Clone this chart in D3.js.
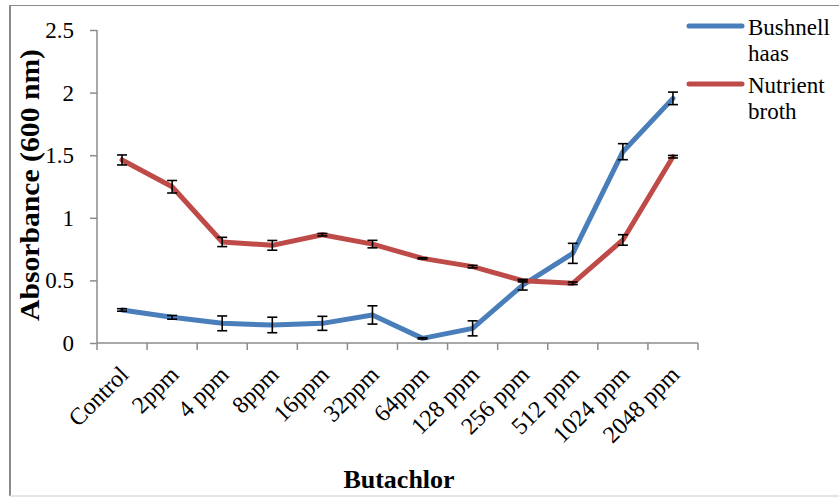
<!DOCTYPE html>
<html>
<head>
<meta charset="utf-8">
<script src="https://cdn.jsdelivr.net/npm/d3@7"></script>
<style>
  html, body { margin: 0; padding: 0; background: #fff; }
  svg { display: block; }
  svg text { font-family: "Liberation Serif", "Times New Roman", serif; fill: #000; }
</style>
</head>
<body>
<svg id="chart" width="839" height="497"></svg>
<script>
// Butachlor concentrations on the x axis
const categories = ["Control", "2ppm", "4 ppm", "8ppm", "16ppm", "32ppm", "64ppm",
  "128 ppm", "256 ppm", "512 ppm", "1024 ppm", "2048 ppm"];

// Absorbance at 600 nm, mean values
const bushnellHaas = [0.264, 0.205, 0.157, 0.144, 0.157, 0.224, 0.037, 0.117, 0.463, 0.716, 1.528, 1.954];
const nutrientBroth = [1.462, 1.248, 0.807, 0.780, 0.865, 0.790, 0.676, 0.610, 0.498, 0.477, 0.823, 1.488];

// Error bar half-widths
const bushnellErr = [0.01, 0.015, 0.059, 0.062, 0.056, 0.073, 0.005, 0.06, 0.04, 0.08, 0.064, 0.05];
const nutrientErr = [0.04, 0.05, 0.037, 0.039, 0.01, 0.03, 0.005, 0.01, 0.01, 0.01, 0.042, 0.01];

const yTicks = [0, 0.5, 1, 1.5, 2, 2.5];

const seriesList = [
  { name: ["Bushnell", "haas"], values: bushnellHaas, err: bushnellErr, color: "#4a7ebb" },
  { name: ["Nutrient", "broth"], values: nutrientBroth, err: nutrientErr, color: "#be4b48" }
];

const FONT = "Liberation Serif";
const svg = d3.select("#chart");

// outer frame
svg.append("line").attr("x1", 10).attr("x2", 10).attr("y1", 5).attr("y2", 496)
  .attr("stroke", "#8a8a8a").attr("stroke-width", 2);
svg.append("line").attr("x1", 10).attr("x2", 839).attr("y1", 5.5).attr("y2", 5.5)
  .attr("stroke", "#8a8a8a").attr("stroke-width", 1);
svg.append("line").attr("x1", 10).attr("x2", 839).attr("y1", 496).attr("y2", 496)
  .attr("stroke", "#dcdcdc").attr("stroke-width", 1.5);

const plot = { left: 97, right: 698, top: 30, bottom: 343 };

const x = d3.scaleBand().domain(categories).range([plot.left, plot.right]);
const y = d3.scaleLinear().domain([0, 2.5]).range([plot.bottom, plot.top]);

// y axis
const yAxis = svg.append("g").attr("transform", `translate(${plot.left},0)`)
  .call(d3.axisLeft(y).tickValues(yTicks).tickSize(7).tickPadding(16)
    .tickFormat(d => d3.format("")(d)));
yAxis.attr("font-family", FONT);
yAxis.select(".domain").attr("stroke", "#8c8c8c").attr("stroke-width", 1.5)
  .attr("d", `M0,${plot.top}V${plot.bottom}`);
yAxis.selectAll(".tick line").attr("stroke", "#8c8c8c").attr("stroke-width", 1.5);
yAxis.selectAll(".tick text").attr("font-size", 23).attr("fill", "#000")
  .attr("font-family", FONT).attr("dy", "0.33em");

// x axis with ticks at category boundaries
const xAxisG = svg.append("g").attr("transform", `translate(0,${plot.bottom})`);
xAxisG.append("line").attr("x1", plot.left).attr("x2", plot.right)
  .attr("stroke", "#8c8c8c").attr("stroke-width", 1.5);
const bounds = categories.map(c => x(c)).concat([x(categories[categories.length - 1]) + x.bandwidth()]);
xAxisG.selectAll("line.tk").data(bounds).enter().append("line").attr("class", "tk")
  .attr("x1", d => d).attr("x2", d => d).attr("y1", 0).attr("y2", 7)
  .attr("stroke", "#8c8c8c").attr("stroke-width", 1.5);
xAxisG.selectAll("text").data(categories).enter().append("text")
  .attr("transform", d => `translate(${x(d) + x.bandwidth() / 2 + 8},${33}) rotate(-45)`)
  .attr("text-anchor", "end")
  .attr("font-family", FONT).attr("font-size", 24).attr("fill", "#000")
  .text(d => d);

// axis titles
svg.append("text")
  .attr("transform", `translate(39,${185}) rotate(-90)`)
  .attr("text-anchor", "middle").attr("font-family", FONT)
  .attr("font-size", 27).attr("font-weight", "bold")
  .attr("textLength", 272).attr("lengthAdjust", "spacingAndGlyphs")
  .text("Absorbance (600 nm)");
svg.append("text").attr("x", 399).attr("y", 488).attr("text-anchor", "middle")
  .attr("font-family", FONT).attr("font-size", 26).attr("font-weight", "bold")
  .text("Butachlor");

const line = d3.line()
  .x((d, i) => x(categories[i]) + x.bandwidth() / 2)
  .y(d => y(d));

seriesList.forEach(s => {
  svg.append("path").datum(s.values)
    .attr("fill", "none").attr("stroke", s.color).attr("stroke-width", 5)
    .attr("stroke-linejoin", "round").attr("stroke-linecap", "round")
    .attr("d", line);
});

// error bars
seriesList.forEach(s => {
  const g = svg.append("g").attr("stroke", "#000").attr("stroke-width", 1.6);
  s.values.forEach((v, i) => {
    const cx = x(categories[i]) + x.bandwidth() / 2;
    const y1 = y(v + s.err[i]);
    const y2 = y(v - s.err[i]);
    g.append("line").attr("x1", cx).attr("x2", cx).attr("y1", y1).attr("y2", y2);
    g.append("line").attr("x1", cx - 5).attr("x2", cx + 5).attr("y1", y1).attr("y2", y1);
    g.append("line").attr("x1", cx - 5).attr("x2", cx + 5).attr("y1", y2).attr("y2", y2);
  });
});

// legend
const legend = svg.append("g");
seriesList.forEach((s, i) => {
  const ly = 26 + i * 58;
  legend.append("line").attr("x1", 689).attr("x2", 742).attr("y1", ly).attr("y2", ly)
    .attr("stroke", s.color).attr("stroke-width", 5).attr("stroke-linecap", "round");
  s.name.forEach((t, j) => {
    legend.append("text").attr("x", 748).attr("y", ly + 8.5 + j * 26)
      .attr("font-family", FONT).attr("font-size", 23).attr("fill", "#000").text(t);
  });
});
</script>
</body>
</html>
